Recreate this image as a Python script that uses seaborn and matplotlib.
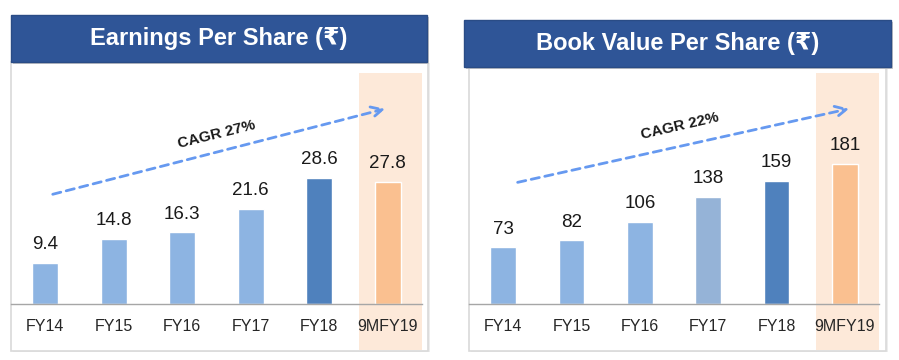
import matplotlib
matplotlib.use("Agg")
import matplotlib.pyplot as plt
import matplotlib.transforms as mtransforms
from matplotlib.patches import Rectangle
import seaborn as sns

sns.set_theme(style="white")
plt.rcParams['font.family'] = ['Liberation Sans', 'DejaVu Sans']

categories = ['FY14', 'FY15', 'FY16', 'FY17', 'FY18', '9MFY19']
eps_values = [9.4, 14.8, 16.3, 21.6, 28.6, 27.8]
eps_labels = ['9.4', '14.8', '16.3', '21.6', '28.6', '27.8']
bvps_values = [73, 82, 106, 138, 159, 181]
bvps_labels = ['73', '82', '106', '138', '159', '181']

eps_colors = ['#8DB4E2', '#8DB4E2', '#8DB4E2', '#8DB4E2', '#4F81BD', '#FAC090']
bvps_colors = ['#8DB4E2', '#8DB4E2', '#8DB4E2', '#95B3D7', '#4F81BD', '#FAC090']

W, H = 899, 360
fig = plt.figure(figsize=(W / 100, H / 100), dpi=100)


def px_box(x0, y0, x1, y1):
    # pixel box (top-left origin) -> figure fraction rect
    return [x0 / W, 1 - y1 / H, (x1 - x0) / W, (y1 - y0) / H]


def panel(title, vals, labels, colors, ylim, axbox, title_box, frame_box, cagr, arrow, text_pos):
    # frame and title bar
    fx0, fy0, fx1, fy1 = frame_box
    fig.patches.append(Rectangle((fx0 / W + 0.002, 1 - fy1 / H - 0.004), (fx1 - fx0) / W, (fy1 - fy0) / H,
                                 transform=fig.transFigure, facecolor='#EDEDED', edgecolor='none', zorder=0))
    fig.patches.append(Rectangle((fx0 / W, 1 - fy1 / H), (fx1 - fx0) / W, (fy1 - fy0) / H,
                                 transform=fig.transFigure, facecolor='white', edgecolor='#D9D9D9',
                                 linewidth=1.2, zorder=0.5))
    tx0, ty0, tx1, ty1 = title_box
    fig.patches.append(Rectangle((tx0 / W + 0.002, 1 - ty1 / H - 0.006), (tx1 - tx0) / W, (ty1 - ty0) / H,
                                 transform=fig.transFigure, facecolor='#C8C8C8', edgecolor='none', zorder=1))
    fig.patches.append(Rectangle((tx0 / W, 1 - ty1 / H), (tx1 - tx0) / W, (ty1 - ty0) / H,
                                 transform=fig.transFigure, facecolor='#2F5597', edgecolor='#2A4C86',
                                 linewidth=1, zorder=2))
    fig.text((tx0 + tx1) / 2 / W, 1 - (ty0 + ty1) / 2 / H, title, color='white', fontsize=17,
             fontweight='bold', ha='center', va='center', zorder=3)

    ax = fig.add_axes(px_box(*axbox))
    ax.set_zorder(5)
    ax.set_facecolor('none')
    sns.barplot(x=categories, y=vals, hue=categories, palette=colors, legend=False,
                width=0.38, saturation=1, ax=ax, zorder=2)
    ax.set_xlim(-0.5, 5.5)
    ax.set_ylim(*ylim)

    # highlight band for the latest period
    trans = mtransforms.blended_transform_factory(ax.transData, ax.transAxes)
    ax.add_patch(Rectangle((4.58, -0.2), 0.92, 1.2, transform=trans, facecolor='#FDE9D9',
                           edgecolor='none', clip_on=False, zorder=0))

    for i, (v, lab) in enumerate(zip(vals, labels)):
        ax.annotate(lab, (i, v), xytext=(0, 7), textcoords='offset points', ha='center',
                    va='bottom', fontsize=13.5, color='#1A1A1A')

    for s in ['top', 'right', 'left']:
        ax.spines[s].set_visible(False)
    ax.spines['bottom'].set_color('#A6A6A6')
    ax.spines['bottom'].set_linewidth(1)
    ax.set_yticks([])
    ax.set_xticks(range(len(categories)))
    ax.set_xticklabels(categories)
    ax.set_xticks([i - 0.5 for i in range(len(categories) + 1)], minor=True)
    ax.tick_params(axis='x', which='major', length=0, pad=11, labelsize=11.5, labelcolor='#262626')
    ax.tick_params(axis='x', which='minor', length=4, width=1, color='#A6A6A6', direction='out')
    ax.set_xlabel('')
    ax.set_ylabel('')

    ax.annotate('', xy=arrow[1], xytext=arrow[0], xycoords='axes fraction', textcoords='axes fraction',
                arrowprops=dict(arrowstyle='->', color='#6699F0', lw=2, linestyle=(0, (3, 2)),
                                mutation_scale=20), zorder=4)
    ax.text(text_pos[0], text_pos[1], cagr, transform=ax.transAxes, rotation=text_pos[2],
            ha='center', va='center', fontsize=11, fontweight='bold', color='#1A1A1A', zorder=4)
    return ax


panel('Earnings Per Share (₹)', eps_values, eps_labels, eps_colors, (0, 52.5),
      (11, 73, 422, 304), (11, 15, 427, 62), (11, 62, 428, 351), 'CAGR 27%',
      ((0.095, 0.472), (0.917, 0.848)), (0.501, 0.735, 14))
panel('Book Value Per Share (₹)', bvps_values, bvps_labels, bvps_colors, (0, 298),
      (469, 73, 879, 304), (464, 20, 891, 67), (469, 67, 886, 351), 'CAGR 22%',
      ((0.112, 0.524), (0.934, 0.848)), (0.515, 0.768, 13))

fig.savefig('out.png', dpi=100)
